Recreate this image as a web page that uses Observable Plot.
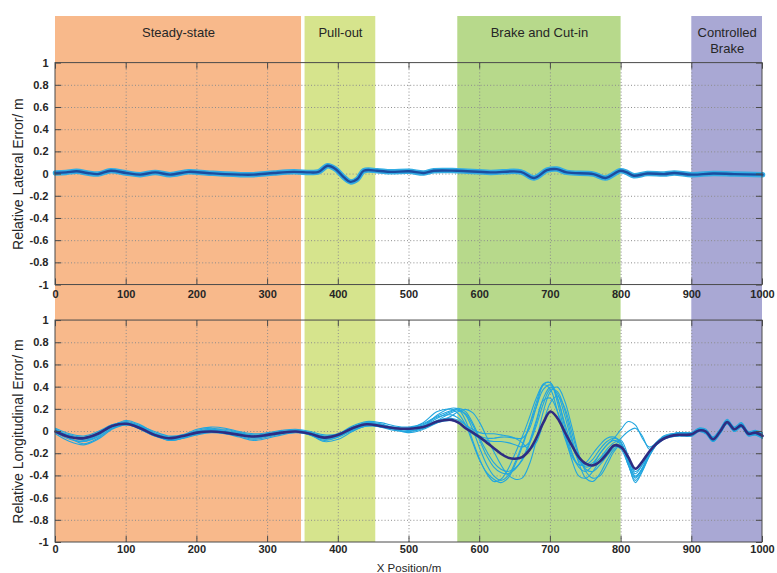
<!DOCTYPE html>
<html><head><meta charset="utf-8">
<script src="https://cdn.jsdelivr.net/npm/d3@7"></script>
<script src="https://cdn.jsdelivr.net/npm/@observablehq/plot@0.6"></script>
<style>body{margin:0;background:#fff;}</style>
</head><body><div id="chart"></div>
<script>
// ---- data ----
const bandLabels = ["Steady-state", "Pull-out", "Brake and Cut-in", "Controlled\nBrake"];
const bandStart = [0, 353, 569, 900];
const bandEnd = [348, 453, 800, 1000];

const xTicks = [0, 100, 200, 300, 400, 500, 600, 700, 800, 900, 1000];
const yTicks = [-1, -0.8, -0.6, -0.4, -0.2, 0, 0.2, 0.4, 0.6, 0.8, 1];

// Relative lateral error (top panel)
const latX = [0,15,30,45,60,78,100,120,141,162,188,214,240,262,280,309,337,360,372,385,396,408,417,427,436,455,474,500,521,535,568,615,658,677,695,709,723,761,778,799,808,818,837,861,875,900,930,960,1000];
const latY = [0.01,0.015,0.025,0.01,0.0,0.03,0.01,-0.005,0.015,-0.005,0.02,0.01,0.0,-0.005,-0.005,0.01,0.02,0.015,0.02,0.075,0.045,-0.03,-0.07,-0.045,0.03,0.03,0.02,0.025,0.01,0.03,0.03,0.015,0.02,-0.035,0.035,0.045,0.015,0.0,-0.035,0.03,0.015,-0.015,0.005,0.0,0.01,-0.005,0.005,0.0,-0.005];

// Relative longitudinal error (bottom panel)
const lonX = [0,20,40,60,80,100,120,140,160,180,200,220,240,260,280,300,320,340,360,380,400,420,440,460,480,500,520,540,
  560,570,580,590,600,610,620,630,640,650,660,670,680,690,700,710,720,730,740,750,760,770,780,790,800,810,820,830,840,850,860,870,880,890,900,910,920,930,940,950,960,970,980,990,1000];
const lonMean = [0.00,-0.05,-0.06,-0.02,0.05,0.07,0.03,-0.03,-0.06,-0.04,-0.01,0.00,-0.01,-0.03,-0.045,-0.03,-0.01,0.00,-0.02,-0.055,-0.03,0.03,0.065,0.05,0.03,0.025,0.04,0.09,
  0.105,0.08,0.03,-0.01,-0.05,-0.10,-0.15,-0.20,-0.235,-0.245,-0.23,-0.17,-0.06,0.08,0.18,0.12,0.00,-0.12,-0.23,-0.29,-0.305,-0.27,-0.20,-0.125,-0.14,-0.23,-0.335,-0.27,-0.18,-0.11,-0.065,-0.04,-0.03,-0.03,-0.025,0.01,0.00,-0.07,0.00,0.085,0.02,0.055,-0.02,-0.01,-0.04];
const lonRun1 = [0.01,-0.03,-0.05,-0.01,0.06,0.08,0.04,-0.02,-0.05,-0.03,0.00,0.02,0.00,-0.02,-0.04,-0.02,0.00,0.01,-0.01,-0.04,-0.02,0.04,0.08,0.06,0.03,0.02,0.05,0.12,
  0.18,0.20,0.15,0.02,-0.15,-0.30,-0.40,-0.44,-0.40,-0.28,-0.12,0.05,0.22,0.38,0.42,0.30,0.05,-0.18,-0.32,-0.36,-0.30,-0.20,-0.12,-0.08,-0.12,-0.30,-0.42,-0.33,-0.20,-0.10,-0.05,-0.03,-0.01,-0.01,-0.01,0.03,0.01,-0.05,0.02,0.10,0.03,0.07,-0.01,0.00,-0.02];
const lonRun2 = [-0.01,-0.07,-0.09,-0.04,0.04,0.07,0.02,-0.04,-0.07,-0.05,-0.02,0.01,0.00,-0.03,-0.06,-0.04,-0.01,0.01,-0.02,-0.07,-0.05,0.02,0.06,0.04,0.01,0.00,0.04,0.15,
  0.21,0.20,0.10,-0.08,-0.25,-0.38,-0.45,-0.43,-0.34,-0.20,-0.05,0.12,0.30,0.42,0.38,0.18,-0.05,-0.22,-0.30,-0.28,-0.20,-0.12,-0.06,-0.05,-0.10,-0.28,-0.46,-0.36,-0.22,-0.12,-0.06,-0.04,-0.04,-0.04,-0.04,0.00,-0.02,-0.09,-0.02,0.07,0.00,0.04,-0.04,-0.03,-0.06];
const lonRun3 = [0.02,-0.04,-0.06,-0.02,0.05,0.09,0.05,-0.02,-0.06,-0.04,0.01,0.03,0.01,-0.01,-0.03,-0.02,0.00,0.00,-0.02,-0.05,-0.03,0.03,0.07,0.06,0.04,0.03,0.06,0.13,
  0.15,0.12,0.06,0.00,-0.04,-0.06,-0.06,-0.05,-0.05,-0.06,-0.06,0.02,0.22,0.42,0.44,0.30,0.08,-0.12,-0.26,-0.32,-0.30,-0.24,-0.16,-0.10,-0.08,-0.22,-0.38,-0.30,-0.18,-0.10,-0.05,-0.03,-0.02,-0.02,-0.02,0.02,0.01,-0.06,0.01,0.09,0.02,0.07,-0.01,0.00,-0.03];
const lonRun4 = [0.00,-0.06,-0.11,-0.06,0.03,0.06,0.03,-0.03,-0.08,-0.06,-0.02,0.00,-0.02,-0.04,-0.07,-0.05,-0.02,0.00,-0.03,-0.08,-0.05,0.01,0.05,0.05,0.02,-0.01,0.02,0.08,
  0.14,0.18,0.20,0.17,0.08,-0.05,-0.18,-0.30,-0.39,-0.43,-0.42,-0.30,-0.08,0.18,0.36,0.40,0.28,0.05,-0.20,-0.36,-0.42,-0.40,-0.30,-0.18,-0.12,-0.26,-0.40,-0.34,-0.22,-0.12,-0.07,-0.05,-0.04,-0.03,-0.03,0.00,-0.01,-0.08,-0.01,0.07,0.01,0.05,-0.03,-0.02,-0.05];
const lonRun5 = [0.03,-0.02,-0.04,0.00,0.06,0.08,0.05,0.00,-0.04,-0.03,0.02,0.04,0.03,0.00,-0.02,-0.01,0.01,0.02,0.00,-0.03,-0.02,0.05,0.09,0.08,0.05,0.04,0.07,0.14,
  0.19,0.21,0.18,0.08,-0.06,-0.18,-0.28,-0.34,-0.36,-0.33,-0.26,-0.12,0.08,0.30,0.40,0.34,0.15,-0.08,-0.24,-0.30,-0.28,-0.20,-0.12,-0.06,0.02,0.09,0.06,-0.06,-0.14,-0.10,-0.04,-0.02,-0.02,-0.02,-0.02,0.02,0.00,-0.06,0.01,0.08,0.02,0.06,-0.02,-0.01,-0.03];
const lonRun6 = [-0.02,-0.09,-0.12,-0.07,0.02,0.06,0.03,-0.03,-0.07,-0.06,-0.03,-0.01,-0.02,-0.05,-0.08,-0.06,-0.03,-0.01,-0.03,-0.09,-0.07,0.00,0.05,0.04,0.02,0.00,0.03,0.10,
  0.17,0.19,0.16,0.06,-0.08,-0.22,-0.32,-0.37,-0.38,-0.34,-0.25,-0.10,0.10,0.28,0.30,0.18,-0.02,-0.25,-0.40,-0.42,-0.36,-0.26,-0.18,-0.13,-0.16,-0.30,-0.44,-0.35,-0.21,-0.11,-0.06,-0.04,-0.03,-0.03,-0.03,0.01,-0.01,-0.07,0.00,0.08,0.02,0.05,-0.02,-0.02,-0.04];
const lonRun7 = [0.01,-0.05,-0.07,-0.03,0.05,0.07,0.02,-0.04,-0.06,-0.05,-0.01,0.01,-0.01,-0.03,-0.05,-0.03,-0.02,0.00,-0.03,-0.06,-0.04,0.02,0.06,0.05,0.03,0.01,0.03,0.08,
  0.10,0.08,0.04,-0.02,-0.06,-0.08,-0.09,-0.09,-0.10,-0.12,-0.14,-0.10,0.05,0.25,0.38,0.36,0.20,-0.05,-0.28,-0.42,-0.45,-0.38,-0.26,-0.16,-0.12,-0.24,-0.36,-0.30,-0.19,-0.10,-0.05,-0.03,-0.01,-0.01,-0.01,0.03,0.02,-0.05,0.02,0.11,0.04,0.08,0.00,0.01,-0.01];
const lonRun8 = [0.00,-0.04,-0.08,-0.03,0.05,0.10,0.06,-0.01,-0.05,-0.04,0.00,0.02,0.02,-0.01,-0.04,-0.03,-0.01,0.01,-0.01,-0.05,-0.04,0.03,0.08,0.07,0.03,0.03,0.08,0.18,
  0.20,0.16,0.06,-0.10,-0.26,-0.37,-0.43,-0.46,-0.42,-0.30,-0.14,0.05,0.26,0.43,0.44,0.26,0.00,-0.20,-0.30,-0.30,-0.25,-0.16,-0.09,-0.06,-0.10,-0.26,-0.41,-0.33,-0.20,-0.10,-0.05,-0.03,-0.02,-0.02,-0.02,0.02,0.00,-0.07,0.00,0.09,0.02,0.06,-0.02,-0.01,-0.04];
const lonRun9 = [0.02,-0.06,-0.09,-0.05,0.03,0.07,0.04,-0.02,-0.08,-0.06,-0.01,0.01,0.00,-0.02,-0.05,-0.04,-0.01,0.01,-0.02,-0.06,-0.04,0.01,0.05,0.05,0.03,0.02,0.04,0.10,
  0.12,0.10,0.06,0.02,-0.01,-0.02,-0.02,-0.03,-0.04,-0.06,-0.10,-0.16,-0.10,0.08,0.26,0.32,0.22,0.00,-0.22,-0.34,-0.36,-0.30,-0.22,-0.14,-0.06,0.00,0.03,-0.04,-0.16,-0.12,-0.07,-0.05,-0.04,-0.04,-0.04,0.00,-0.02,-0.09,-0.02,0.07,0.00,0.04,-0.03,-0.03,-0.06];
const lonRuns = [lonRun1, lonRun2, lonRun3, lonRun4, lonRun5, lonRun6, lonRun7, lonRun8, lonRun9];

// ---- layout constants ----
const OFF = 2.32;     // vertical offset of the top panel in the shared y scale
const YTOP = 3.74;    // top of the coloured bands
const bandFill = ["#F8B98B", "#D6E48D", "#B7D98B", "#A9A8D4"];
const fmt = v => String(Math.round(v * 10) / 10);

const bands = bandLabels.map((label, i) => ({label, start: bandStart[i], end: bandEnd[i], fill: bandFill[i]}));
const runRows = lonRuns.flatMap((run, r) => run.map((y, i) => ({run: r, x: lonX[i], y})));
const meanRows = lonMean.map((y, i) => ({x: lonX[i], y}));
const latRows = latY.map((y, i) => ({x: latX[i], y: y + OFF}));

const panels = [0, OFF];
const gridY = panels.flatMap(o => yTicks.filter(v => Math.abs(v) < 1).map(v => v + o));
const gridX = panels.flatMap(o => xTicks.filter(v => v > 0 && v < 1000).map(v => ({x: v, o})));
const tickLenY = 0.055, tickLenX = 8.5;
const txt = "#262626";

const chart = Plot.plot({
  width: 777, height: 573,
  marginLeft: 55, marginRight: 15, marginTop: 16, marginBottom: 31,
  x: {domain: [0, 1000], axis: null},
  y: {domain: [-1, YTOP], axis: null},
  style: {fontFamily: "Liberation Sans, Arial, sans-serif", background: "white"},
  marks: [
    Plot.rect(bands, {x1: "start", x2: "end", y1: () => -1, y2: () => YTOP, fill: d => d.fill}),
    Plot.text(bands, {x: d => (d.start + d.end) / 2, y: () => 3.655, text: "label", lineAnchor: "top", lineHeight: 1.23, fontSize: 13, fill: txt}),
    // dotted grid
    Plot.ruleY(gridY, {y: d => d, x1: () => 0, x2: () => 1000, stroke: "#8c8c8c", strokeDasharray: "1,2.2", strokeWidth: 1}),
    Plot.ruleX(gridX, {x: "x", y1: d => d.o - 1, y2: d => d.o + 1, stroke: "#8c8c8c", strokeDasharray: "1,2.2", strokeWidth: 1}),
    // longitudinal runs and mean
    Plot.line(runRows, {x: "x", y: "y", z: "run", stroke: "#22A6DF", strokeWidth: 1.1, curve: "catmull-rom"}),
    Plot.line(meanRows, {x: "x", y: "y", stroke: "#2E2C82", strokeWidth: 2.6, curve: "catmull-rom"}),
    // lateral
    Plot.line(latRows, {x: "x", y: "y", stroke: "#33ADE4", strokeWidth: 5.5, curve: "catmull-rom"}),
    Plot.line(latRows, {x: "x", y: "y", stroke: "#1C4C9E", strokeWidth: 2.4, curve: "catmull-rom"}),
    // frames
    Plot.rect(panels, {x1: () => 0, x2: () => 1000, y1: d => d - 1, y2: d => d + 1, fill: "none", stroke: "#4a4a4a", strokeWidth: 1}),
    // inside ticks
    Plot.ruleX(panels.flatMap(o => xTicks.map(v => ({x: v, o}))), {x: "x", y1: d => d.o - 1, y2: d => d.o - 1 + tickLenY, stroke: "#4a4a4a"}),
    Plot.ruleX(panels.flatMap(o => xTicks.map(v => ({x: v, o}))), {x: "x", y1: d => d.o + 1, y2: d => d.o + 1 - tickLenY, stroke: "#4a4a4a"}),
    Plot.ruleY(panels.flatMap(o => yTicks.map(v => v + o)), {y: d => d, x1: () => 0, x2: () => tickLenX, stroke: "#4a4a4a"}),
    Plot.ruleY(panels.flatMap(o => yTicks.map(v => v + o)), {y: d => d, x1: () => 1000 - tickLenX, x2: () => 1000, stroke: "#4a4a4a"}),
    // y tick labels (both panels)
    Plot.axisY({ticks: yTicks, tickFormat: fmt, tickSize: 0, tickPadding: 7, label: null, fontSize: 11, fontWeight: "bold", fill: txt}),
    Plot.axisY({ticks: yTicks.map(v => v + OFF), tickFormat: v => fmt(v - OFF), tickSize: 0, tickPadding: 7, label: null, fontSize: 11, fontWeight: "bold", fill: txt}),
    // x tick labels (bottom axis and top panel)
    Plot.axisX({ticks: xTicks, tickFormat: d => String(d), tickSize: 0, tickPadding: 3, label: null, fontSize: 11, fontWeight: "bold", fill: txt}),
    Plot.text(xTicks, {x: d => d, y: () => OFF - 1, dy: 9, text: d => String(d), fontSize: 11, fontWeight: "bold", fill: txt}),
    // axis titles
    Plot.text(["Relative Lateral Error/ m"], {y: () => OFF, frameAnchor: "left", dx: -37, rotate: -90, textAnchor: "middle", text: d => d, fontSize: 14, fill: txt}),
    Plot.text(["Relative Longitudinal Error/ m"], {y: () => 0, frameAnchor: "left", dx: -37, rotate: -90, textAnchor: "middle", text: d => d, fontSize: 14, fill: txt}),
    Plot.text(["X Position/m"], {frameAnchor: "bottom", dy: 29, text: d => d, fontSize: 11.5, fill: txt})
  ]
});
document.getElementById("chart").appendChild(chart);
</script>
</body></html>
